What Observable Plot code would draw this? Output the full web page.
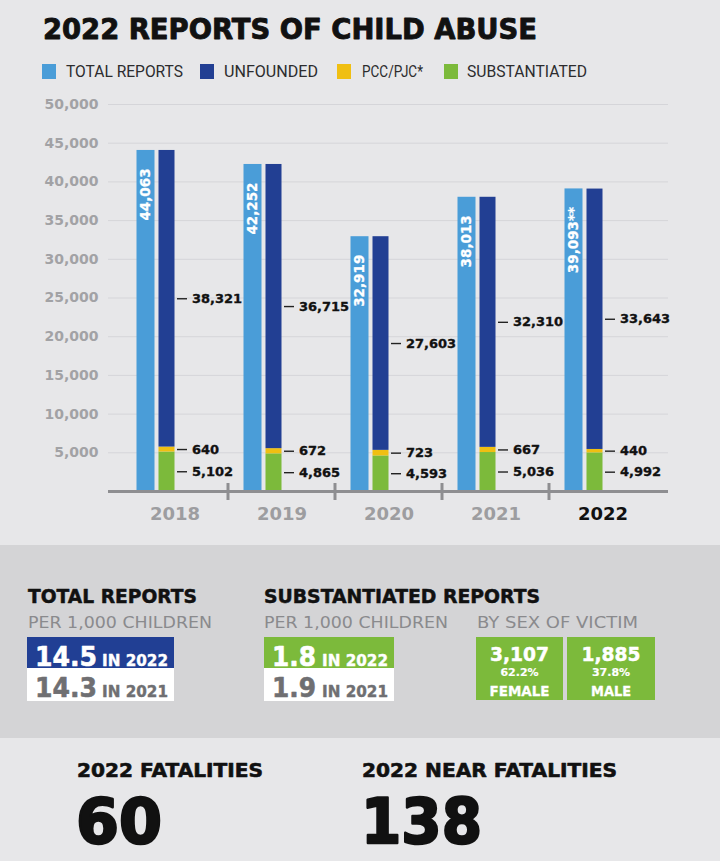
<!DOCTYPE html>
<html>
<head>
<meta charset="utf-8">
<script src="https://cdn.jsdelivr.net/npm/d3@7"></script>
<script src="https://cdn.jsdelivr.net/npm/@observablehq/plot@0.6"></script>
<style>
  html, body { margin: 0; padding: 0; background: #e7e7e9; }
  #page { position: relative; width: 720px; height: 861px; overflow: hidden; background: #e7e7e9; }
  #deco { position: absolute; left: 0; top: 0; }
  #chart { position: absolute; left: 0; top: 90px; }
</style>
</head>
<body>
<div id="page">
  <svg id="deco" width="720" height="861"></svg>
  <div id="chart"></div>
</div>
<script>
// ---- Data ----
const years = ["2018", "2019", "2020", "2021", "2022"];
const totalReports = [44063, 42252, 32919, 38013, 39093];
const totalNotes = ["", "", "", "", "**"];
const substantiated = [5102, 4865, 4593, 5036, 4992];
const pccPjc = [640, 672, 723, 667, 440];
const unfounded = [38321, 36715, 27603, 32310, 33643];

const seriesNames = ["TOTAL REPORTS", "UNFOUNDED", "PCC/PJC*", "SUBSTANTIATED"];
const seriesColors = ["#4a9dd8", "#223f93", "#f0bf12", "#7cba3b"];
const yTicks = [5000, 10000, 15000, 20000, 25000, 30000, 35000, 40000, 45000, 50000];

// Rates per 1,000 children
const rateYears = ["2022", "2021"];
const totalRate = [14.5, 14.3];
const substRate = [1.8, 1.9];

// Substantiated reports by sex of victim
const sexLabels = ["FEMALE", "MALE"];
const sexCounts = [3107, 1885];
const sexShare = [62.2, 37.8];

// Fatalities
const fatalityLabels = ["2022 FATALITIES", "2022 NEAR FATALITIES"];
const fatalityCounts = [60, 138];

// ---- Chart ----
const fmt = d3.format(",");
const W = 720, H = 450, ML = 108, MR = 52, MT = 14, MB = 49, PO = 0.0926;
const step = (W - ML - MR) / (years.length + 2 * PO);

// stacked segments of the second bar: substantiated, PCC/PJC, unfounded
const segs = [];
years.forEach((year, i) => {
  let base = 0;
  [["SUBSTANTIATED", substantiated[i]], ["PCC/PJC*", pccPjc[i]], ["UNFOUNDED", unfounded[i]]]
    .forEach(([series, value]) => {
      segs.push({year, series, value, y1: base, y2: base + value, mid: base + value / 2});
      base += value;
    });
});
const totals = years.map((year, i) => ({year, value: totalReports[i], note: totalNotes[i]}));

const labelFont = {fontFamily: "DejaVu Sans", fontWeight: "bold"};

const chart = Plot.plot({
  width: W, height: H,
  marginLeft: ML, marginRight: MR, marginTop: MT, marginBottom: MB,
  style: "background: transparent; overflow: visible;",
  x: {type: "band", domain: years, paddingInner: 0, paddingOuter: PO, axis: null},
  y: {domain: [0, 50000], axis: null},
  color: {domain: seriesNames, range: seriesColors},
  marks: [
    Plot.ruleY(yTicks, {stroke: "#d5d5d9", strokeWidth: 1}),
    Plot.text(yTicks, {y: d => d, text: d => fmt(d), frameAnchor: "left", textAnchor: "end", dx: -10,
      fill: "#a2a2a5", fontSize: 14, ...labelFont}),
    Plot.barY(totals, {x: "year", y: "value", fill: seriesColors[0],
      insetLeft: 15.5, insetRight: step - 34.5}),
    Plot.barY(segs, {x: "year", y1: "y1", y2: "y2", fill: "series",
      insetLeft: 37.5, insetRight: step - 54.5}),
    Plot.ruleY([0], {stroke: "#8e8e91", strokeWidth: 3}),
    Plot.ruleX(years.slice(1), {x: d => d, y1: () => 0, y2: () => 0, insetTop: -8, insetBottom: -9,
      dx: -step / 2, stroke: "#8e8e91", strokeWidth: 3}),
    Plot.tickY(segs, {x: "year", y: "mid", insetLeft: 56, insetRight: step - 67,
      stroke: "#222", strokeWidth: 1.4}),
    Plot.text(segs, {x: "year", y: "mid", text: d => fmt(d.value), dx: -step / 2 + 71,
      textAnchor: "start", fill: "#111", stroke: "#111", strokeWidth: 0.35, fontSize: 13, ...labelFont}),
    Plot.text(totals, {x: "year", y: "value", text: d => fmt(d.value) + d.note, rotate: -90,
      textAnchor: "end", dx: -step / 2 + 25, dy: 18, fill: "white", stroke: "white", strokeWidth: 0.3,
      fontSize: 13.5, ...labelFont}),
    Plot.text(years, {filter: d => d !== "2022", x: d => d, y: () => 0, dy: 23, text: d => d,
      fill: "#9d9da0", fontSize: 18, ...labelFont}),
    Plot.text(years, {filter: d => d === "2022", x: d => d, y: () => 0, dy: 23, text: d => d,
      fill: "#111", fontSize: 18, ...labelFont})
  ]
});
document.getElementById("chart").appendChild(chart);

// ---- Title, legend and summary panels ----
const deco = d3.select("#deco");

function txt(s, x, y, o = {}) {
  const t = deco.append("text")
    .attr("x", x).attr("y", y)
    .attr("font-family", o.family || "DejaVu Sans")
    .attr("font-size", o.size || 14)
    .attr("font-weight", o.weight || "bold")
    .attr("fill", o.fill || "#111")
    .attr("text-anchor", o.anchor || "start")
    .text(s);
  if (o.w) t.attr("textLength", o.w).attr("lengthAdjust", "spacingAndGlyphs");
  if (o.stroke) t.attr("stroke", o.fill || "#111").attr("stroke-width", o.stroke).attr("stroke-linejoin", "round");
  return t;
}
function rect(x, y, w, h, fill) {
  deco.append("rect").attr("x", x).attr("y", y).attr("width", w).attr("height", h).attr("fill", fill);
}

// title
txt("2022 REPORTS OF CHILD ABUSE", 43, 39, {size: 28, w: 494, stroke: 0.9});

// legend
const legendSwatchX = [42, 200, 337, 444];
const legendTextX = [66, 224, 362, 467];
const legendTextW = [117, 94, 61, 120];
seriesNames.forEach((name, i) => {
  rect(legendSwatchX[i], 64, 14, 15, seriesColors[i]);
  txt(name, legendTextX[i], 77, {family: "Roboto", weight: "normal", size: 16.5, fill: "#2c2c2e", w: legendTextW[i]});
});

// middle panel
rect(0, 545, 720, 193, "#d4d4d6");
txt("TOTAL REPORTS", 28, 603, {size: 19, w: 169, stroke: 0.5});
txt("SUBSTANTIATED REPORTS", 264, 603, {size: 19, w: 276, stroke: 0.5});
txt("PER 1,000 CHILDREN", 28, 628, {weight: "normal", size: 16.5, fill: "#8a8a8d", w: 184});
txt("PER 1,000 CHILDREN", 264, 628, {weight: "normal", size: 16.5, fill: "#8a8a8d", w: 184});
txt("BY SEX OF VICTIM", 477, 628, {weight: "normal", size: 16.5, fill: "#8a8a8d", w: 161});

function rateBox(x, w, rates, color, numW) {
  rect(x, 637, w, 31, color);
  rect(x, 668, w, 33, "#ffffff");
  rates.forEach((r, i) => {
    const base = i === 0 ? 666 : 697;
    const fill = i === 0 ? "#ffffff" : "#6f6f72";
    txt(String(r), x + 8, base, {size: 27, fill, w: numW, stroke: 0.6});
    txt("IN " + rateYears[i], x + w - 72, base, {size: 15, fill, w: 66, stroke: 0.4});
  });
}
rateBox(27, 147, totalRate, "#213f94", 62);
rateBox(264, 130, substRate, "#7cba3b", 44);

const sexBoxX = [476, 567], sexBoxW = [87, 88];
sexLabels.forEach((lab, i) => {
  rect(sexBoxX[i], 637, sexBoxW[i], 63, "#7cba3b");
  const cx = sexBoxX[i] + sexBoxW[i] / 2;
  txt(fmt(sexCounts[i]), cx, 661, {size: 20, fill: "#ffffff", anchor: "middle", w: 59, stroke: 0.5});
  txt(sexShare[i] + "%", cx, 676, {size: 11, fill: "#ffffff", anchor: "middle", stroke: 0.2});
  txt(lab, cx, 696, {size: 14, fill: "#ffffff", anchor: "middle", w: lab.length * 10, stroke: 0.3});
});

// bottom panel
const fatalX = [77, 362], fatalLabW = [186, 255], fatalNumW = [86, 121];
fatalityLabels.forEach((lab, i) => {
  txt(lab, fatalX[i], 777, {size: 19, w: fatalLabW[i], stroke: 0.6});
  txt(String(fatalityCounts[i]), fatalX[i] - 1, 843, {size: 63, w: fatalNumW[i], stroke: 2.5});
});
</script>
</body>
</html>
